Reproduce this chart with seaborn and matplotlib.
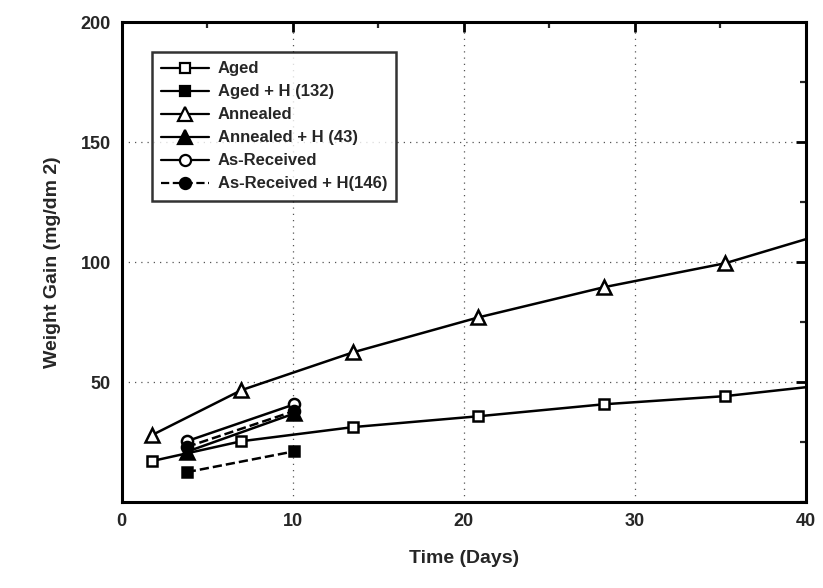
import numpy as np
import pandas as pd
import seaborn as sns
import matplotlib.pyplot as plt
from matplotlib.lines import Line2D
from matplotlib.ticker import MultipleLocator

sns.set_style("white")
plt.rcParams['font.family'] = ['Liberation Sans', 'DejaVu Sans']
plt.rcParams['font.weight'] = 'bold'

# Long exposure series (days / weight gain)
long_days = [1.75, 7.0, 13.55, 20.85, 28.2, 35.3]
aged = [17.1, 25.4, 31.3, 35.8, 40.8, 44.2]
annealed = [27.9, 46.7, 62.5, 77.0, 89.6, 99.6]
# end of the drawn curves at day 40
curve_end_day = 40
aged_end = 47.9
annealed_end = 109.6

# Short exposure series (hydrogen charged + as-received)
short_days = [3.8, 10.1]
aged_h = [12.5, 21.2]
annealed_h = [21.0, 37.0]
as_received = [25.4, 40.8]
as_received_h = [23.0, 38.0]

labels = ["Aged", "Aged + H (132)", "Annealed", "Annealed + H (43)",
          "As-Received", "As-Received + H(146)"]

fig, ax = plt.subplots(figsize=(8.23, 5.88), dpi=100)

# curves (markers only on measured points)
for vals, end, mk, ms in [(aged, aged_end, 's', 7), (annealed, annealed_end, '^', 9.5)]:
    df = pd.DataFrame({"Day": long_days + [curve_end_day], "Gain": vals + [end]})
    sns.lineplot(data=df, x="Day", y="Gain", ax=ax, color='black', lw=1.8,
                 marker=mk, markersize=ms, markerfacecolor='white',
                 markeredgecolor='black', markeredgewidth=1.8,
                 markevery=list(range(len(long_days))), zorder=3)

short = [
    (aged_h, 's', 'black', '--', 7),
    (annealed_h, '^', 'black', '-', 9.5),
    (as_received, 'o', 'white', '-', 8),
    (as_received_h, 'o', 'black', '--', 8),
]
for vals, mk, fc, ls, ms in short:
    df = pd.DataFrame({"Day": short_days, "Gain": vals})
    sns.lineplot(data=df, x="Day", y="Gain", ax=ax, color='black', lw=1.8,
                 linestyle=ls, marker=mk, markersize=ms, markerfacecolor=fc,
                 markeredgecolor='black', markeredgewidth=1.8, zorder=3)

ax.set_xlim(0, 40)
ax.set_ylim(0, 200)
ax.xaxis.set_major_locator(MultipleLocator(10))
ax.xaxis.set_minor_locator(MultipleLocator(5))
ax.set_yticks([50, 100, 150, 200])
ax.yaxis.set_minor_locator(MultipleLocator(25))
ax.grid(True, which='major', linestyle=(0, (1, 4)), color='#555555', lw=0.9)

for spine in ax.spines.values():
    spine.set_visible(True)
    spine.set_color('black')
    spine.set_linewidth(2.2)

ax.tick_params(axis='both', which='major', direction='in', length=7, width=2,
               labelsize=13, color='black', top=True, right=True, pad=8)
ax.tick_params(axis='both', which='minor', direction='in', length=4, width=1.6,
               top=True, right=True)
for lab in ax.get_xticklabels() + ax.get_yticklabels():
    lab.set_fontweight('bold')

ax.set_xlabel("Time (Days)", fontsize=14, fontweight='bold', labelpad=14)
ax.set_ylabel("Weight Gain (mg/dm 2)", fontsize=14, fontweight='bold', labelpad=14)

styles = [('s', 'white', '-', 7), ('s', 'black', '-', 7), ('^', 'white', '-', 9.5),
          ('^', 'black', '-', 9.5), ('o', 'white', '-', 8), ('o', 'black', '--', 8)]
handles = [Line2D([], [], color='black', lw=1.6, linestyle=ls, marker=mk,
                  markersize=ms, markerfacecolor=fc, markeredgecolor='black',
                  markeredgewidth=1.6)
           for mk, fc, ls, ms in styles]
leg = ax.legend(handles, labels, loc='upper left', bbox_to_anchor=(0.044, 0.9375),
                frameon=True, fancybox=False, edgecolor='black', handlelength=2.9,
                handletextpad=0.5, labelspacing=0.48, borderpad=0.55,
                borderaxespad=0, prop={'size': 12, 'weight': 'bold'})
leg.get_frame().set_linewidth(1.8)

plt.subplots_adjust(left=0.148, right=0.979, top=0.962, bottom=0.146)
plt.savefig("out.png", dpi=100)
